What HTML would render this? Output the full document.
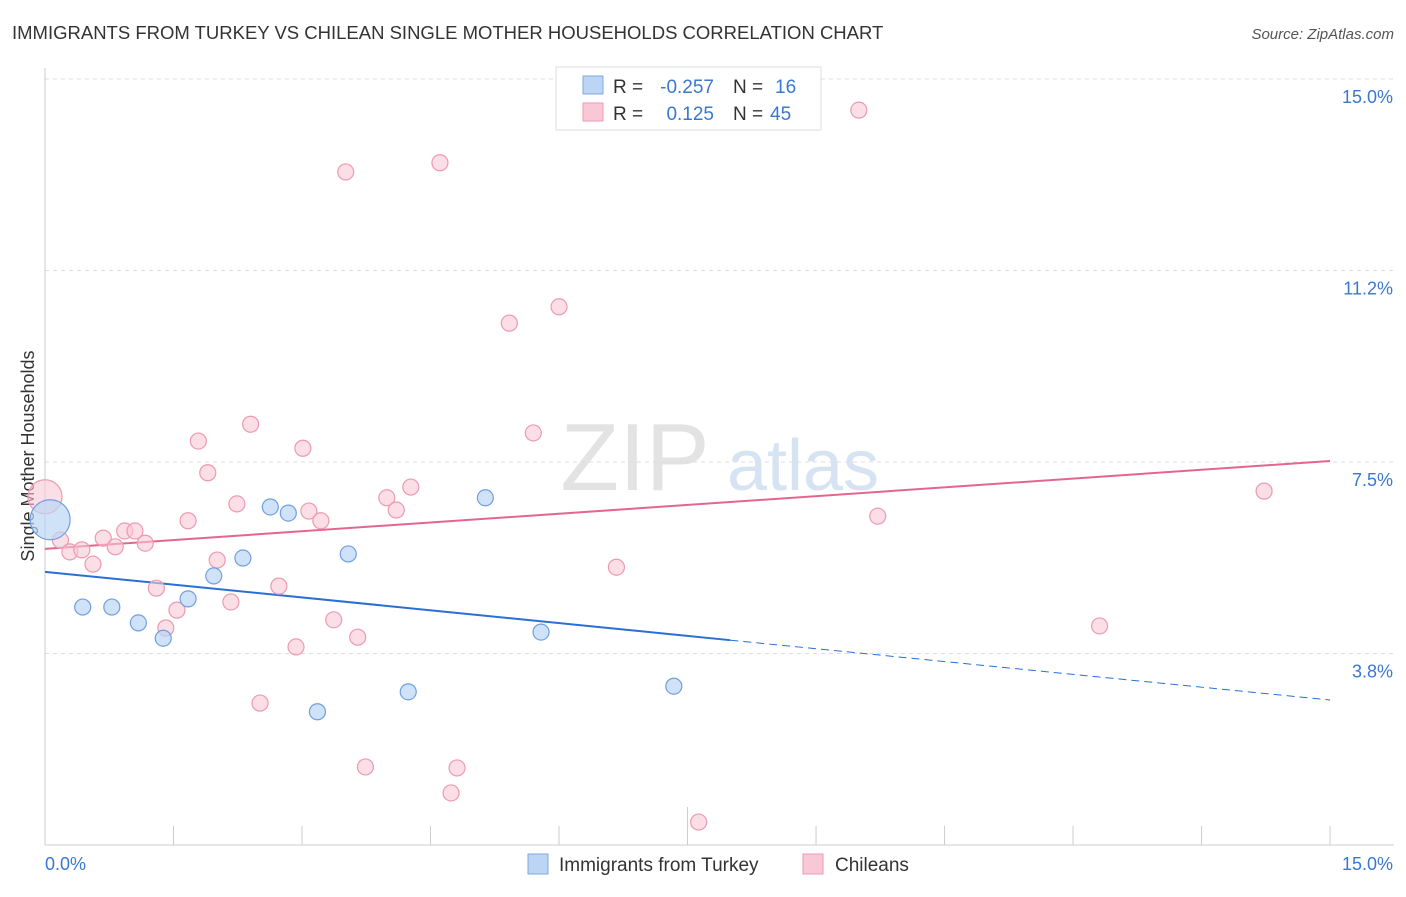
<!DOCTYPE html>
<html><head><meta charset="utf-8"><style>
body{margin:0;background:#fff;font-family:"Liberation Sans",sans-serif;}
svg text{font-family:"Liberation Sans",sans-serif;}
</style></head><body>
<svg id="chart" width="1406" height="892" xmlns="http://www.w3.org/2000/svg">
<text x="12" y="39" font-size="18.5" fill="#333">IMMIGRANTS FROM TURKEY VS CHILEAN SINGLE MOTHER HOUSEHOLDS CORRELATION CHART</text>
<text x="1394" y="39" font-size="15" fill="#555" text-anchor="end" font-style="italic">Source: ZipAtlas.com</text>
<text transform="translate(34,456) rotate(-90)" font-size="18" fill="#333" text-anchor="middle">Single Mother Households</text>
<g>
<text x="635" y="490" font-size="96" fill="#d8d8d8" text-anchor="middle" font-family="Liberation Serif" opacity="0.7">ZIP</text>
<text x="803" y="490" font-size="72" fill="#c5d8ee" text-anchor="middle" opacity="0.7">atlas</text>
</g>
<g id="grid"></g><g id="axes"></g><g id="lines"></g><g id="points"></g>
<g>
<rect x="556" y="67" width="265" height="63" fill="#fff" stroke="#ddd"/>
<rect x="583" y="76" width="20" height="18" fill="#bcd5f5" stroke="#7fa8e0"/>
<rect x="583" y="103" width="20" height="18" fill="#f9c8d6" stroke="#ec9ab2"/>
<text x="613" y="93" font-size="19" fill="#333">R =</text>
<text x="714" y="93" font-size="19" fill="#3a78d0" text-anchor="end">-0.257</text>
<text x="733" y="93" font-size="19" fill="#333">N =</text>
<text x="775" y="93" font-size="19" fill="#3a78d0">16</text>
<text x="613" y="120" font-size="19" fill="#333">R =</text>
<text x="714" y="120" font-size="19" fill="#3a78d0" text-anchor="end">0.125</text>
<text x="733" y="120" font-size="19" fill="#333">N =</text>
<text x="770" y="120" font-size="19" fill="#3a78d0">45</text>
</g>
<g>
<rect x="528" y="854" width="20" height="20" fill="#bcd5f5" stroke="#7fa8e0"/>
<text x="559" y="871" font-size="19" fill="#333">Immigrants from Turkey</text>
<rect x="803" y="854" width="20" height="20" fill="#f9c8d6" stroke="#ec9ab2"/>
<text x="835" y="871" font-size="19" fill="#333">Chileans</text>
</g>
</svg>
<script>
const yTicks=[15.0,11.25,7.5,3.75];
const yTickLabels=["15.0%","11.2%","7.5%","3.8%"];
const xTicks=[0,1.5,3,4.5,6,7.5,9,10.5,12,13.5,15];
const xLabelMin="0.0%", xLabelMax="15.0%";
const turkeyX=[0.06,0.44,0.78,1.09,1.38,1.67,1.97,2.31,2.63,2.84,3.54,3.18,4.24,5.14,5.79,7.34];
const turkeyY=[6.37,4.66,4.66,4.35,4.05,4.82,5.27,5.62,6.62,6.50,5.70,2.61,3.00,6.80,4.17,3.11];
const chileX=[0.0,0.18,0.29,0.43,0.56,0.68,0.82,0.93,1.05,1.17,1.30,1.41,1.54,1.67,1.79,1.90,2.01,2.17,2.24,2.40,2.51,2.73,2.93,3.01,3.08,3.22,3.37,3.51,3.65,3.74,3.99,4.10,4.27,4.61,4.74,4.81,5.42,5.70,6.00,6.67,7.63,9.50,9.72,12.31,14.23];
const chileY=[6.82,5.97,5.74,5.78,5.50,6.01,5.84,6.15,6.15,5.91,5.03,4.25,4.60,6.35,7.91,7.29,5.58,4.76,6.68,8.24,2.78,5.07,3.88,7.77,6.54,6.35,4.41,13.18,4.07,1.53,6.80,6.56,7.01,13.36,1.02,1.51,10.22,8.07,10.54,5.44,0.45,14.39,6.44,4.29,6.93];
const turkeyTrend=[5.35,2.84];
const chileTrend=[5.80,7.52];
const turkeySolidEnd=8.0;
const NS="http://www.w3.org/2000/svg";
const sx=v=>45+v*85.67, sy=v=>79+(15-v)*51.07;
function mk(p,t,a){const e=document.createElementNS(NS,t);for(const k in a)e.setAttribute(k,a[k]);document.getElementById(p).appendChild(e);return e;}
yTicks.forEach((t,i)=>{
 const l=mk('grid','line',{x1:45,x2:1394,y1:sy(t),y2:sy(t),stroke:'#ddd','stroke-dasharray':'4,4'});
 
 
 const tx=mk('grid','text',{x:1393,y:sy(t)+24,'font-size':18,fill:'#3a78d0','text-anchor':'end'});
 tx.textContent=yTickLabels[i];
 
 
});
const ax=mk('axes','line',{x1:45,x2:45,y1:68,y2:845,stroke:'#ccc'});


const bx=mk('axes','line',{x1:45,x2:1394,y1:845,y2:845,stroke:'#ccc'});


xTicks.forEach((t,i)=>{
 const tk=mk('axes','line',{x1:sx(t),x2:sx(t),y1:i==5?807:826,y2:845,stroke:'#ccc'});
 
 
});
const xl0=mk('axes','text',{x:45,y:870,'font-size':18,fill:'#3a78d0'});xl0.textContent=xLabelMin;


const xl1=mk('axes','text',{x:1393,y:870,'font-size':18,fill:'#3a78d0','text-anchor':'end'});xl1.textContent=xLabelMax;


const tAt=x=>turkeyTrend[0]+(turkeyTrend[1]-turkeyTrend[0])*x/15;
const l1=mk('lines','line',{x1:sx(0),y1:sy(turkeyTrend[0]),x2:sx(turkeySolidEnd),y2:sy(tAt(turkeySolidEnd)),stroke:'#2a6fd6','stroke-width':2});


const l2=mk('lines','line',{x1:sx(turkeySolidEnd),y1:sy(tAt(turkeySolidEnd)),x2:sx(15),y2:sy(turkeyTrend[1]),stroke:'#2a6fd6','stroke-width':1,'stroke-dasharray':'8,5'});


const l3=mk('lines','line',{x1:sx(0),y1:sy(chileTrend[0]),x2:sx(15),y2:sy(chileTrend[1]),stroke:'#e4668f','stroke-width':2});


chileX.forEach((x,i)=>{
 const c=mk('points','circle',{cx:sx(x),cy:sy(chileY[i]),r:i==0?17:8,fill:'#f9c8d6','fill-opacity':0.6,stroke:'#ec9ab2','stroke-width':1.2});
 
 
});
turkeyX.forEach((x,i)=>{
 const c=mk('points','circle',{cx:sx(x),cy:sy(turkeyY[i]),r:i==0?20:8,fill:'#bcd5f5','fill-opacity':0.7,stroke:'#6f9fe0','stroke-width':1.2});
 
 
});
</script>
</body></html>
